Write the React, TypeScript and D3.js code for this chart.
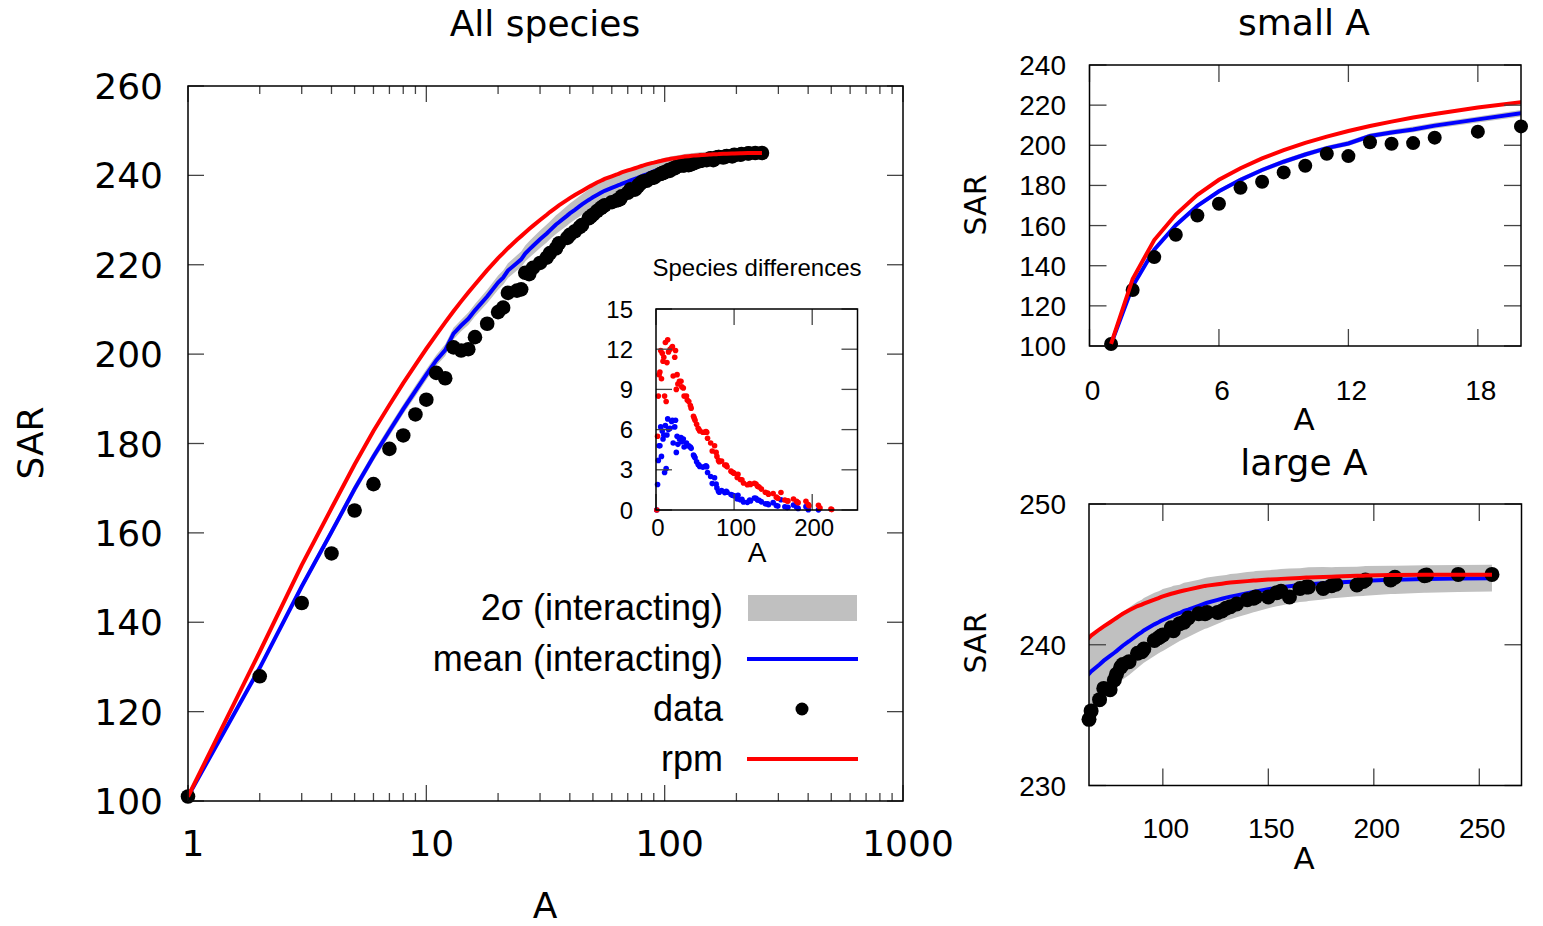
import React from 'react';
import * as d3 from 'd3';

// sub-areas A (products i*j, i,j <= 16) and the SAR values
const areas = [1, 2, 3, 4, 5, 6, 7, 8, 9, 10, 11, 12, 13, 14, 15, 16, 18, 20, 21, 22, 24, 25, 26, 27, 28, 30, 32, 33, 35, 36, 39, 40, 42, 44, 45, 48, 49, 50, 52, 54, 55, 56, 60, 63, 64, 65, 66, 70, 72, 75, 77, 78, 80, 81, 84, 88, 90, 91, 96, 98, 99, 100, 104, 105, 108, 110, 112, 117, 120, 121, 126, 128, 130, 132, 135, 140, 143, 144, 150, 154, 156, 160, 165, 168, 169, 176, 180, 182, 192, 195, 196, 208, 210, 224, 225, 240, 256];

const sarData = [101, 127.9, 144.3, 155.4, 165.0, 170.9, 178.8, 181.8, 186.5, 189.8, 195.8, 194.6, 201.5, 200.8, 201.1, 203.8, 206.8, 209.4, 210.4, 213.7, 214.2, 214.5, 218.2, 217.9, 219.3, 220.4, 221.6, 222.6, 223.7, 224.8, 226.0, 226.7, 227.5, 228.4, 228.9, 230.4, 230.8, 231.2, 232.0, 232.7, 233.0, 233.3, 234.0, 234.4, 234.5, 234.7, 235.3, 236.1, 236.9, 236.8, 237.5, 237.9, 238.4, 238.6, 238.8, 239.4, 239.5, 239.7, 240.3, 240.5, 240.6, 240.7, 241.2, 241.0, 241.5, 241.6, 241.9, 242.2, 242.2, 242.3, 242.3, 242.4, 242.6, 242.7, 242.9, 243.2, 243.3, 243.4, 243.4, 243.7, 243.8, 243.4, 244.0, 244.1, 244.1, 244.0, 244.2, 244.3, 244.25, 244.5, 244.6, 244.6, 244.8, 244.9, 244.95, 245.0, 245.0];

const sarRpm = [101, 133.4, 152.8, 165.5, 175.3, 182.8, 188.6, 193.5, 197.6, 201.2, 204.3, 207.1, 209.6, 211.8, 213.8, 215.6, 218.8, 221.5, 222.6, 223.7, 225.6, 226.4, 227.2, 228.0, 228.7, 230.0, 231.2, 231.8, 232.8, 233.3, 234.5, 234.9, 235.6, 236.2, 236.5, 237.4, 237.65, 237.9, 238.4, 238.8, 239.0, 239.2, 239.8, 240.2, 240.35, 240.5, 240.65, 241.1, 241.3, 241.6, 241.8, 241.9, 242.1, 242.2, 242.45, 242.75, 242.85, 242.92, 243.2, 243.32, 243.38, 243.44, 243.62, 243.66, 243.78, 243.85, 243.92, 244.08, 244.18, 244.2, 244.3, 244.34, 244.38, 244.42, 244.46, 244.52, 244.56, 244.57, 244.63, 244.66, 244.68, 244.71, 244.75, 244.77, 244.78, 244.82, 244.84, 244.85, 244.9, 244.91, 244.92, 244.95, 244.95, 244.98, 244.98, 244.98, 244.98];

const sarMean = [101, 129.8, 148.0, 160.2, 169.8, 177.1, 182.8, 187.7, 191.8, 195.4, 198.6, 200.9, 204.6, 206.4, 207.9, 209.8, 212.9, 216.0, 217.1, 218.7, 220.4, 221.2, 222.5, 223.4, 224.2, 225.7, 227.0, 227.7, 229.0, 229.5, 231.0, 231.5, 232.3, 233.1, 233.5, 234.5, 234.8, 235.1, 235.6, 236.1, 236.35, 236.55, 237.2, 237.65, 237.8, 237.93, 238.1, 238.6, 238.87, 239.21, 239.43, 239.55, 239.8, 239.93, 240.25, 240.7, 240.9, 241.02, 241.45, 241.6, 241.68, 241.76, 242.02, 242.1, 242.26, 242.4, 242.5, 242.77, 242.94, 242.98, 243.19, 243.27, 243.35, 243.42, 243.51, 243.66, 243.76, 243.79, 243.95, 244.04, 244.09, 244.16, 244.24, 244.28, 244.3, 244.37, 244.4, 244.42, 244.5, 244.52, 244.54, 244.61, 244.61, 244.67, 244.67, 244.71, 244.73];

// half width of the 2-sigma band around the mean
const sarSigma = [0, 0.6, 0.8, 0.9, 1.0, 1.0, 1.1, 1.1, 1.2, 1.2, 1.2, 1.3, 1.3, 1.3, 1.4, 1.4, 1.5, 1.6, 1.6, 1.65, 1.7, 1.75, 1.8, 1.85, 1.9, 1.95, 2.0, 2.0, 2.1, 2.1, 2.2, 2.2, 2.25, 2.3, 2.3, 2.35, 2.4, 2.4, 2.45, 2.5, 2.5, 2.5, 2.55, 2.6, 2.6, 2.6, 2.6, 2.55, 2.55, 2.5, 2.5, 2.45, 2.45, 2.4, 2.4, 2.35, 2.3, 2.3, 2.25, 2.2, 2.2, 2.2, 2.1, 2.1, 2.0, 2.0, 1.95, 1.85, 1.8, 1.8, 1.7, 1.65, 1.6, 1.6, 1.55, 1.5, 1.45, 1.45, 1.35, 1.3, 1.3, 1.25, 1.2, 1.2, 1.2, 1.15, 1.1, 1.1, 1.05, 1.05, 1.05, 1.0, 1.0, 0.98, 0.98, 0.96, 0.95];

const mainYTicks = [100, 120, 140, 160, 180, 200, 220, 240, 260];
const mainXTicks = [1, 10, 100, 1000];
const smallXTicks = [0, 6, 12, 18];
const smallYTicks = [100, 120, 140, 160, 180, 200, 220, 240];
const largeXTicks = [100, 150, 200, 250];
const largeYTicks = [230, 240, 250];
const insetXTicks = [0, 100, 200];
const insetYTicks = [0, 3, 6, 9, 12, 15];
const legendItems = ['2σ (interacting)', 'mean (interacting)', 'data', 'rpm'];

type Pt = { a: number; data: number; rpm: number; mean: number; sig: number };
const points: Pt[] = areas.map((a, i) => ({ a, data: sarData[i], rpm: sarRpm[i], mean: sarMean[i], sig: sarSigma[i] }));

const RED = '#ff0000';
const BLUE = '#0000ff';
const GREY = '#c0c0c0';
const DEJAVU = 'DejaVu Sans';
const LIB = 'Liberation Sans';

function Ticks({ x, y, xt, yt, len, minor = [] as number[] }: { x: any; y: any; xt: number[]; yt: number[]; len: number; minor?: number[] }) {
  const [x0, x1] = x.range();
  const [y0, y1] = y.range();
  return (
    <g stroke="#444" strokeWidth={1.3}>
      {xt.map(t => (
        <g key={'x' + t}>
          <line x1={x(t)} x2={x(t)} y1={y0} y2={y0 - len} />
          <line x1={x(t)} x2={x(t)} y1={y1} y2={y1 + len} />
        </g>
      ))}
      {minor.map(t => (
        <g key={'m' + t}>
          <line x1={x(t)} x2={x(t)} y1={y0} y2={y0 - len / 2} />
          <line x1={x(t)} x2={x(t)} y1={y1} y2={y1 + len / 2} />
        </g>
      ))}
      {yt.map(t => (
        <g key={'y' + t}>
          <line x1={x0} x2={x0 + len} y1={y(t)} y2={y(t)} />
          <line x1={x1} x2={x1 - len} y1={y(t)} y2={y(t)} />
        </g>
      ))}
    </g>
  );
}

function Frame({ x, y }: { x: any; y: any }) {
  const [x0, x1] = x.range();
  const [y0, y1] = y.range();
  return <rect x={x0} y={y1} width={x1 - x0} height={y0 - y1} fill="none" stroke="#000" strokeWidth={1.5} />;
}

function Curves({ id, x, y, pts, r }: { id: string; x: any; y: any; pts: Pt[]; r: number }) {
  const [x0, x1] = x.range();
  const [y0, y1] = y.range();
  const [d0, d1] = x.domain();
  const band = d3.area<Pt>().x(d => x(d.a)).y0(d => y(d.mean - d.sig)).y1(d => y(d.mean + d.sig));
  const mean = d3.line<Pt>().x(d => x(d.a)).y(d => y(d.mean));
  const rpm = d3.line<Pt>().x(d => x(d.a)).y(d => y(d.rpm));
  const shown = pts.filter(d => d.a >= d0 && d.a <= d1);
  return (
    <g>
      <defs>
        <clipPath id={id}>
          <rect x={x0} y={y1} width={x1 - x0} height={y0 - y1} />
        </clipPath>
      </defs>
      <g clipPath={`url(#${id})`}>
        <path d={band(pts) || ''} fill={GREY} stroke="none" />
        <path d={mean(pts) || ''} fill="none" stroke={BLUE} strokeWidth={4} />
      </g>
      {shown.map(d => <circle key={d.a} cx={x(d.a)} cy={y(d.data)} r={r} fill="#000" />)}
      <g clipPath={`url(#${id})`}>
        <path d={rpm(pts) || ''} fill="none" stroke={RED} strokeWidth={4} />
      </g>
    </g>
  );
}

export default function App() {
  // main panel
  const mx = d3.scaleLog().domain([1, 1000]).range([188, 903]);
  const my = d3.scaleLinear().domain([100, 260]).range([801, 86]);
  const minor: number[] = [];
  [1, 10, 100].forEach(dec => d3.range(2, 10).forEach(k => minor.push(dec * k)));

  // small A panel
  const sx = d3.scaleLinear().domain([0, 20]).range([1089.5, 1521]);
  const sy = d3.scaleLinear().domain([100, 240]).range([346, 65]);

  // large A panel
  const lx = d3.scaleLinear().domain([65, 270]).range([1089, 1521.5]);
  const ly = d3.scaleLinear().domain([230, 250]).range([785.5, 504]);

  // inset: model minus data (points below zero fall outside the inset range)
  const ix = d3.scaleLinear().domain([0, 258]).range([656, 857.5]);
  const iy = d3.scaleLinear().domain([0, 15]).range([510, 309]);
  const diffRpm = points.map(d => ({ a: d.a, v: d.rpm - d.data })).filter(d => d.v >= 0);
  const diffMean = points.map(d => ({ a: d.a, v: d.mean - d.data })).filter(d => d.v >= 0);

  const legendY = [608, 659, 709, 759];

  return (
    <svg width={1543} height={926} style={{ position: 'absolute', left: 0, top: 0, background: '#fff' }}>
      <rect width={1543} height={926} fill="#fff" />

      {/* ---- All species ---- */}
      <text x={545} y={36} textAnchor="middle" fontFamily={DEJAVU} fontSize={36}>All species</text>
      <Curves id="clipMain" x={mx} y={my} pts={points} r={7.3} />
      <Ticks x={mx} y={my} xt={mainXTicks} yt={mainYTicks} len={16} minor={minor} />
      <Frame x={mx} y={my} />
      {mainYTicks.map(t => (
        <text key={t} x={163} y={my(t) + 13} textAnchor="end" fontFamily={DEJAVU} fontSize={36}>{t}</text>
      ))}
      {mainXTicks.map(t => (
        <text key={t} x={mx(t) + 5} y={856} textAnchor="middle" fontFamily={DEJAVU} fontSize={36}>{t}</text>
      ))}
      <text x={545} y={918} textAnchor="middle" fontFamily={DEJAVU} fontSize={36}>A</text>
      <text transform="translate(43,443) rotate(-90)" textAnchor="middle" fontFamily={DEJAVU} fontSize={36}>SAR</text>

      {/* legend */}
      {legendItems.map((s, i) => (
        <text key={s} x={723} y={legendY[i] + 12} textAnchor="end" fontFamily={LIB} fontSize={36}>{s}</text>
      ))}
      <rect x={748} y={595} width={109} height={26} fill={GREY} />
      <line x1={747} x2={858} y1={legendY[1]} y2={legendY[1]} stroke={BLUE} strokeWidth={4} />
      <circle cx={802} cy={legendY[2]} r={6.5} fill="#000" />
      <line x1={747} x2={858} y1={legendY[3]} y2={legendY[3]} stroke={RED} strokeWidth={4} />

      {/* inset */}
      <text x={757} y={276} textAnchor="middle" fontFamily={LIB} fontSize={24}>Species differences</text>
      {diffMean.map(d => <circle key={'b' + d.a} cx={ix(d.a)} cy={iy(d.v)} r={2.8} fill={BLUE} />)}
      {diffRpm.map(d => <circle key={'r' + d.a} cx={ix(d.a)} cy={iy(d.v)} r={2.8} fill={RED} />)}
      <Ticks x={ix} y={iy} xt={insetXTicks} yt={insetYTicks} len={16} />
      <Frame x={ix} y={iy} />
      {insetYTicks.map(t => (
        <text key={t} x={633} y={iy(t) + 8.5} textAnchor="end" fontFamily={LIB} fontSize={24}>{t}</text>
      ))}
      {insetXTicks.map(t => (
        <text key={t} x={ix(t) + 2} y={536} textAnchor="middle" fontFamily={LIB} fontSize={24}>{t}</text>
      ))}
      <text x={757} y={562} textAnchor="middle" fontFamily={LIB} fontSize={28}>A</text>

      {/* ---- small A ---- */}
      <text x={1304} y={35} textAnchor="middle" fontFamily={DEJAVU} fontSize={36}>small A</text>
      <Curves id="clipSmall" x={sx} y={sy} pts={points} r={7} />
      <Ticks x={sx} y={sy} xt={smallXTicks} yt={smallYTicks} len={17} />
      <Frame x={sx} y={sy} />
      {smallYTicks.map(t => (
        <text key={t} x={1066} y={sy(t) + 10} textAnchor="end" fontFamily={LIB} fontSize={28}>{t}</text>
      ))}
      {smallXTicks.map(t => (
        <text key={t} x={sx(t) + 3} y={400} textAnchor="middle" fontFamily={LIB} fontSize={28}>{t}</text>
      ))}
      <text x={1304} y={430} textAnchor="middle" fontFamily={DEJAVU} fontSize={31}>A</text>
      <text transform="translate(986,205) rotate(-90)" textAnchor="middle" fontFamily={DEJAVU} fontSize={30}>SAR</text>

      {/* ---- large A ---- */}
      <text x={1304} y={475} textAnchor="middle" fontFamily={DEJAVU} fontSize={36}>large A</text>
      <Curves id="clipLarge" x={lx} y={ly} pts={points} r={7.5} />
      <Ticks x={lx} y={ly} xt={largeXTicks} yt={largeYTicks} len={17} />
      <Frame x={lx} y={ly} />
      {largeYTicks.map(t => (
        <text key={t} x={1066} y={ly(t) + 10} textAnchor="end" fontFamily={LIB} fontSize={28}>{t}</text>
      ))}
      {largeXTicks.map(t => (
        <text key={t} x={lx(t) + 3} y={838} textAnchor="middle" fontFamily={LIB} fontSize={28}>{t}</text>
      ))}
      <text x={1304} y={869} textAnchor="middle" fontFamily={DEJAVU} fontSize={31}>A</text>
      <text transform="translate(986,643) rotate(-90)" textAnchor="middle" fontFamily={DEJAVU} fontSize={30}>SAR</text>
    </svg>
  );
}
